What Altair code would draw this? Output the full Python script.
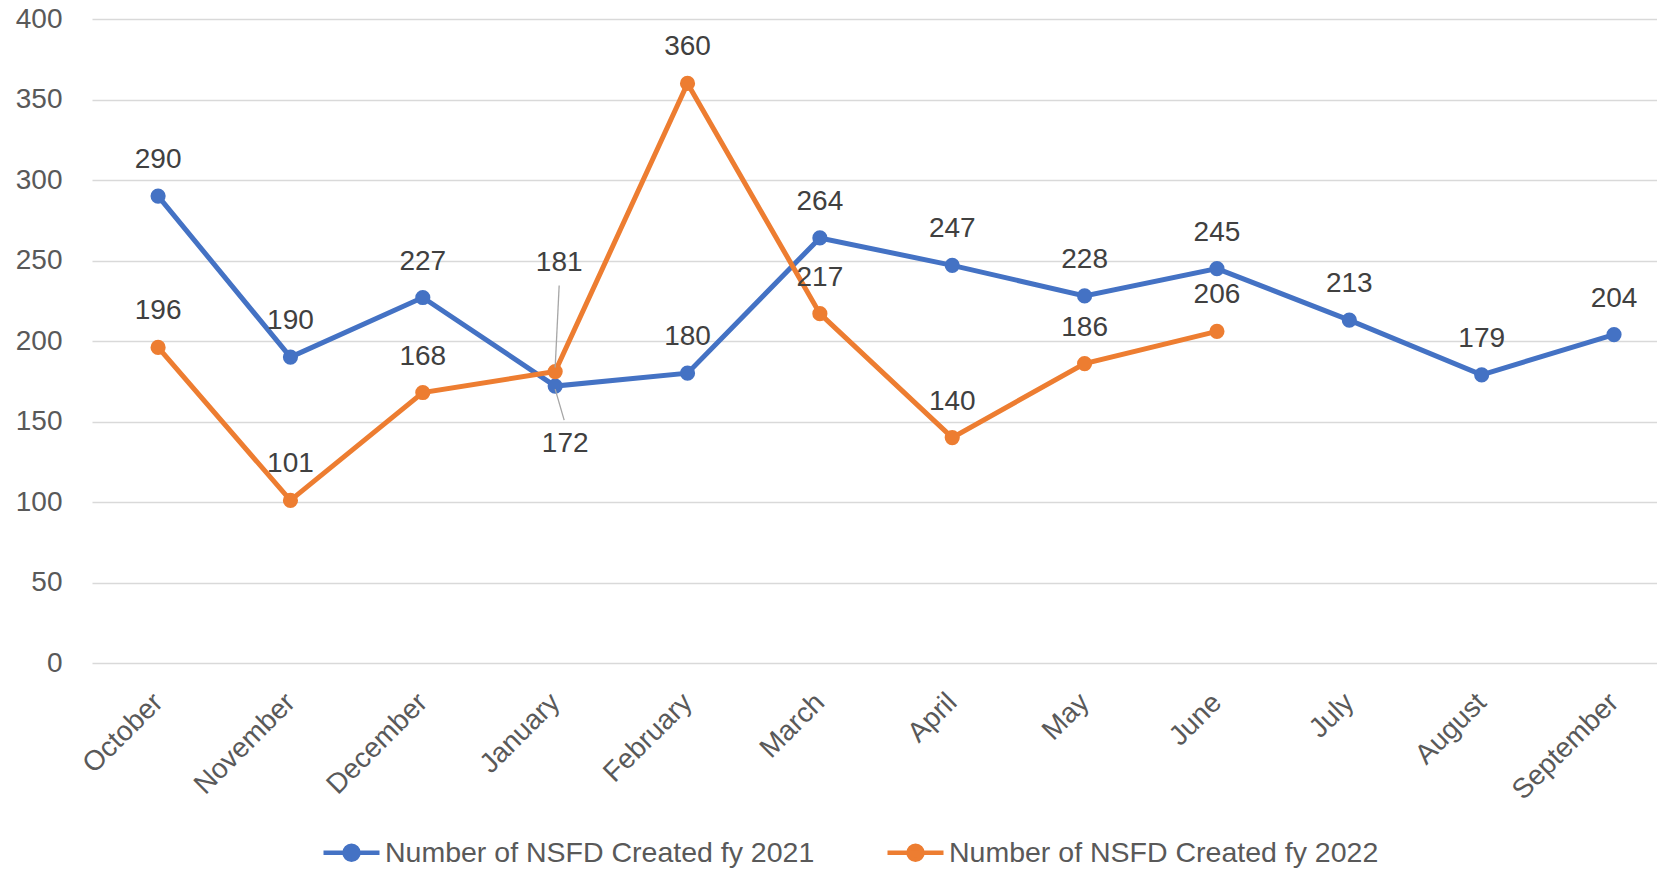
import altair as alt
import pandas as pd

months = ["October", "November", "December", "January", "February", "March",
          "April", "May", "June", "July", "August", "September"]
fy2021 = [290, 190, 227, 172, 180, 264, 247, 228, 245, 213, 179, 204]
fy2022 = [196, 101, 168, 181, 360, 217, 140, 186, 206, None, None, None]
series_names = ["Number of NSFD Created fy 2021", "Number of NSFD Created  fy 2022"]
series_colors = ["#4472C4", "#ED7D31"]
y_ticks = [0, 50, 100, 150, 200, 250, 300, 350, 400]

rows = []
for i, m in enumerate(months):
    rows.append({"month": m, "series": series_names[0], "value": fy2021[i]})
    if fy2022[i] is not None:
        rows.append({"month": m, "series": series_names[1], "value": fy2022[i]})
df = pd.DataFrame(rows)

FONT = "Liberation Sans"
legend_path = "M-1,0L1,0M0.25,0A0.25,0.25,0,1,1,-0.25,0A0.25,0.25,0,1,1,0.25,0Z"

x_enc = alt.X("month:N", sort=months,
              scale=alt.Scale(type="point", padding=0.412, align=0.606),
              axis=alt.Axis(title=None, labelAngle=-45, labelAlign="right",
                            labelBaseline="middle", labelPadding=35,
                            labelFontSize=28, labelColor="#595959",
                            domain=False, ticks=False, grid=False, labelFont=FONT))
y_enc = alt.Y("value:Q", scale=alt.Scale(domain=[0, 400], nice=False),
              axis=alt.Axis(title=None, values=y_ticks, grid=True,
                            gridColor="#D9D9D9", gridWidth=1.3, domain=False,
                            ticks=False, labelFontSize=28, labelColor="#595959",
                            labelPadding=30, labelFont=FONT))
color_enc = alt.Color(
    "series:N",
    scale=alt.Scale(domain=series_names, range=series_colors),
    legend=alt.Legend(
        title=None, orient="none", legendX=229, legendY=803,
        direction="horizontal", symbolType=legend_path, symbolSize=3136,
        symbolStrokeWidth=4.5, labelFontSize=28.5, labelColor="#595959",
        labelFont=FONT, columnPadding=63, labelOffset=3, labelLimit=0))

base = alt.Chart(df)

lines = base.mark_line(strokeWidth=5).encode(
    x=x_enc, y=y_enc, color=color_enc, detail="series:N")
points = base.mark_circle(size=230, opacity=1).encode(
    x=x_enc, y=y_enc, color=color_enc)

labels = base.transform_filter(alt.datum.month != "January").mark_text(
    dy=-36, fontSize=28, font=FONT, color="#404040").encode(
    x=x_enc, y=y_enc, text="value:Q")

lab181 = base.transform_filter(
    (alt.datum.month == "January") & (alt.datum.series == series_names[1])
).mark_text(dy=-109, dx=4, fontSize=28, font=FONT, color="#404040").encode(
    x=x_enc, y=y_enc, text="value:Q")

lab172 = base.transform_filter(
    (alt.datum.month == "January") & (alt.datum.series == series_names[0])
).mark_text(dy=58, dx=10, fontSize=28, font=FONT, color="#404040").encode(
    x=x_enc, y=y_enc, text="value:Q")

lead181 = base.transform_filter(
    (alt.datum.month == "January") & (alt.datum.series == series_names[1])
).mark_rule(color="#A6A6A6", strokeWidth=1.3, yOffset=-4, y2Offset=-86,
            x2Offset=4).encode(
    x=x_enc, x2="month:N", y=y_enc, y2="value:Q")

lead172 = base.transform_filter(
    (alt.datum.month == "January") & (alt.datum.series == series_names[0])
).mark_rule(color="#A6A6A6", strokeWidth=1.3, yOffset=3, y2Offset=34,
            x2Offset=9).encode(
    x=x_enc, x2="month:N", y=y_enc, y2="value:Q")

chart = alt.layer(
    lines, points, lead181, lead172, labels, lab181, lab172
).resolve_scale(color="shared").properties(
    width=1565, height=644,
    autosize=alt.AutoSizeParams(type="none"),
    padding={"left": 84, "top": 11, "right": 0, "bottom": 205},
    background="white",
).configure(
    font=FONT
).configure_view(
    strokeWidth=0, stroke=None
).configure_axis(
    domain=False, ticks=False
)

chart.save("out.html", embed_options={"renderer": "svg", "actions": False})
